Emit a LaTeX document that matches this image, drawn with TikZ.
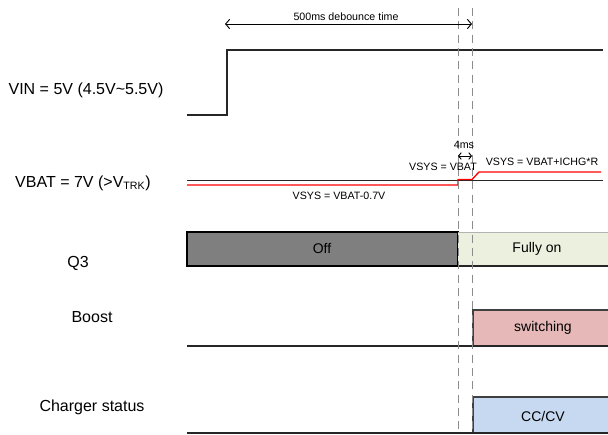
\documentclass[tikz,border=0pt]{standalone}
\usepackage{fontspec}
\setmainfont{Liberation Sans}
\usetikzlibrary{arrows.meta}
\definecolor{offgray}{HTML}{7F7F7F}
\definecolor{ongreen}{HTML}{EBF1DE}
\definecolor{swpink}{HTML}{E6B9B8}
\definecolor{ccblue}{HTML}{C6D9F1}

\begin{document}
\begin{tikzpicture}[x=0.75pt,y=-0.75pt,>={Straight Barb[length=3pt,width=7pt]},
    sig/.style={line width=1pt,black!85},
    lbl/.style={font=\fontsize{12}{14}\selectfont},
    note/.style={font=\fontsize{8}{9}\selectfont,inner sep=1pt},
    boxtxt/.style={font=\fontsize{10.5}{12}\selectfont}]
\useasboundingbox (0,0) rectangle (608,435);

% time marks
\coordinate (db0) at (225,24);
\coordinate (db1) at (472,24);
\coordinate (tr0) at (458,156);
\coordinate (tr1) at (472,156);

% row labels
\node[lbl] (vin) at (86,90) {VIN = 5V (4.5V\textasciitilde5.5V)};
\node[lbl] (vbat) at (83,183) {VBAT = 7V (>V\textsubscript{TRK})};
\node[lbl] (q3) at (78,263) {Q3};
\node[lbl] (boost) at (92,317) {Boost};
\node[lbl] (chg) at (92,407) {Charger status};

% VIN
\draw[sig] (187,115) -- (227,115) -- (227,50) -- (603,50);

% VBAT / VSYS
\draw[sig] (187,180.5) -- (603,180.5);
\draw[red,line width=1pt] (187,185) -- (458,185) -- (458,179.5) -- (472,179.5) -- (479,172) -- (601,172);

% Q3
\draw[fill=offgray,line width=0.8pt] (187,232) rectangle (458,266);
\fill[ongreen] (458,232) rectangle (608,266);
\draw[black!30] (458,232) -- (608,232);
\draw[sig] (458,266) -- (608,266);
\node[boxtxt] (off) at (322,249) {Off};
\node[boxtxt] (on) at (537,249) {Fully on};

% Boost
\fill[swpink] (473,310) rectangle (608,346);
\draw[line width=0.8pt,black!75] (608,310) -- (473,310) -- (473,346);
\draw[sig] (187,346) -- (608,346);
\node[boxtxt] (sw) at (543,328) {switching};

% Charger status
\fill[ccblue] (473,397) rectangle (608,433);
\draw[line width=0.8pt,black!75] (608,397) -- (473,397) -- (473,433);
\draw[sig] (187,433) -- (608,433);
\node[boxtxt] (cc) at (543,416) {CC/CV};

% dashed markers
\foreach \x in {458,472}{
    \draw[black!45,dash pattern=on 6pt off 4pt] (\x,8) -- (\x,435);
}

% timing notes
\draw[<->,line width=0.7pt] (db0) -- (db1);
\node[note] (deb) at (346,17) {500ms debounce time};
\draw[<->,line width=0.7pt,>={Straight Barb[length=2pt,width=5pt]}] (tr0) -- (tr1);
\node[note] (four) at (464,145) {4ms};
\node[note] (eq) at (443,167) {VSYS = VBAT};
\node[note] (chgeq) at (542,162) {VSYS = VBAT+ICHG*R};
\node[note] (drop) at (339,196) {VSYS = VBAT-0.7V};
\end{tikzpicture}
\end{document}
